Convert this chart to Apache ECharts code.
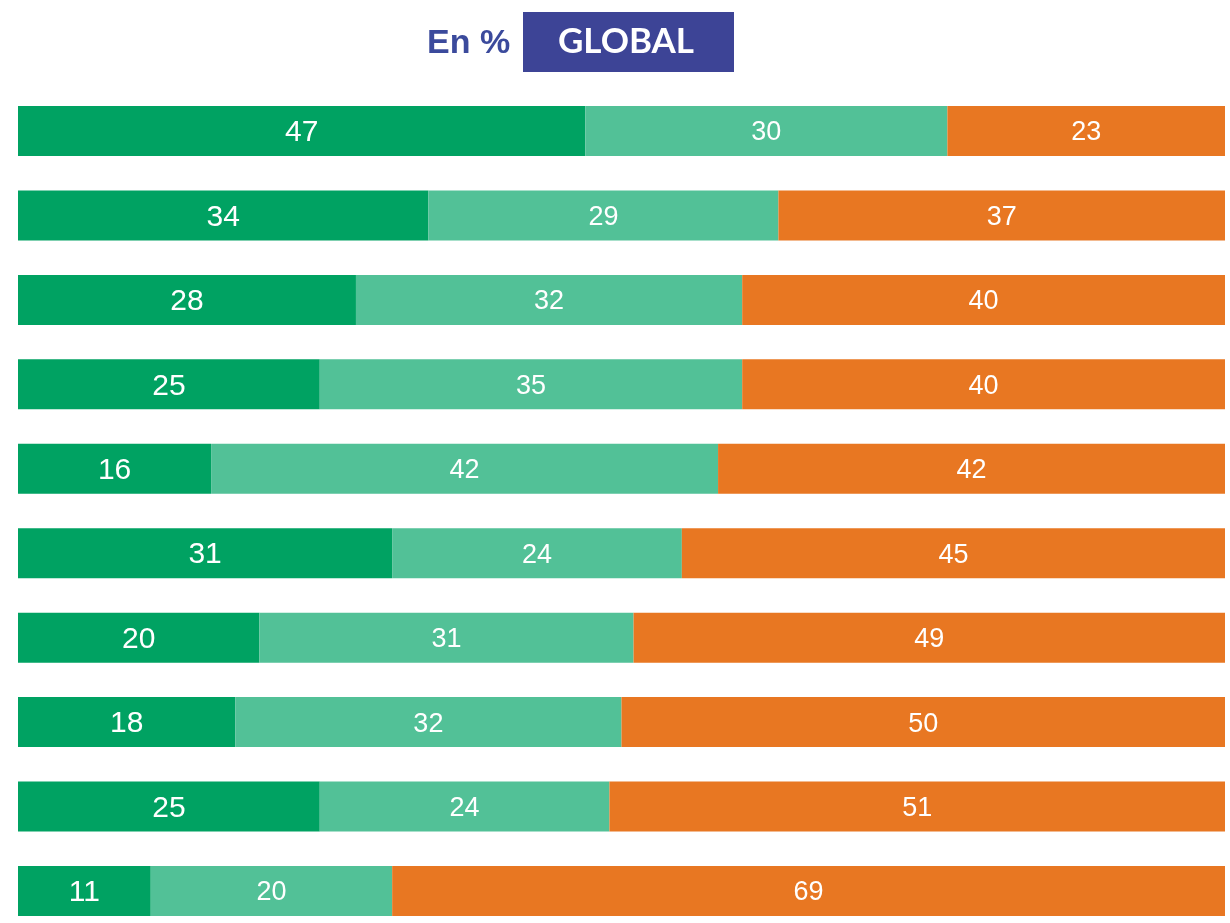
<!DOCTYPE html>
<html><head><meta charset="utf-8">
<script src="https://cdn.jsdelivr.net/npm/echarts@6/dist/echarts.min.js"></script>
<style>html,body{margin:0;padding:0;background:#fff}#c{width:1230px;height:923px}</style>
</head><body><div id="c"></div>
<script>
const categories = ['R1','R2','R3','R4','R5','R6','R7','R8','R9','R10'];
const seriesA = [47,34,28,25,16,31,20,18,25,11];
const seriesB = [30,29,32,35,42,24,31,32,24,20];
const seriesC = [23,37,40,40,42,45,49,50,51,69];
const colors = ['#00A262','#52C197','#E87722'];

const chart = echarts.init(document.getElementById('c'));
function mk(name, data, color, fs){
  return {name, type:'bar', stack:'s', data, barWidth:50,
    itemStyle:{color}, emphasis:{disabled:true},
    label:{show:true, position:'inside', offset:[0,2], color:'#fff', fontSize:fs, fontFamily:'Liberation Sans'}};
}
chart.setOption({
  animation:false,
  grid:{left:18, width:1207, top:131, height:760, containLabel:false},
  xAxis:{type:'value', min:0, max:100, show:false},
  yAxis:{type:'category', data:categories, inverse:true, show:false, boundaryGap:false},
  series:[mk('A',seriesA,colors[0],30), mk('B',seriesB,colors[1],27), mk('C',seriesC,colors[2],27)],
  graphic:[
    {type:'text', x:427, y:44, style:{text:'En %', fill:'#3B4A9C', font:'bold 34px Liberation Sans, Arial, sans-serif', verticalAlign:'middle'}},
    {type:'rect', shape:{x:523,y:12,width:211,height:60}, style:{fill:'#3D4496'}},
    {type:'text', x:626, y:42, style:{text:'GLOBAL', fill:'#fff', font:'bold 35px Lato, sans-serif', align:'center', verticalAlign:'middle'}}
  ]
});
</script></body></html>
